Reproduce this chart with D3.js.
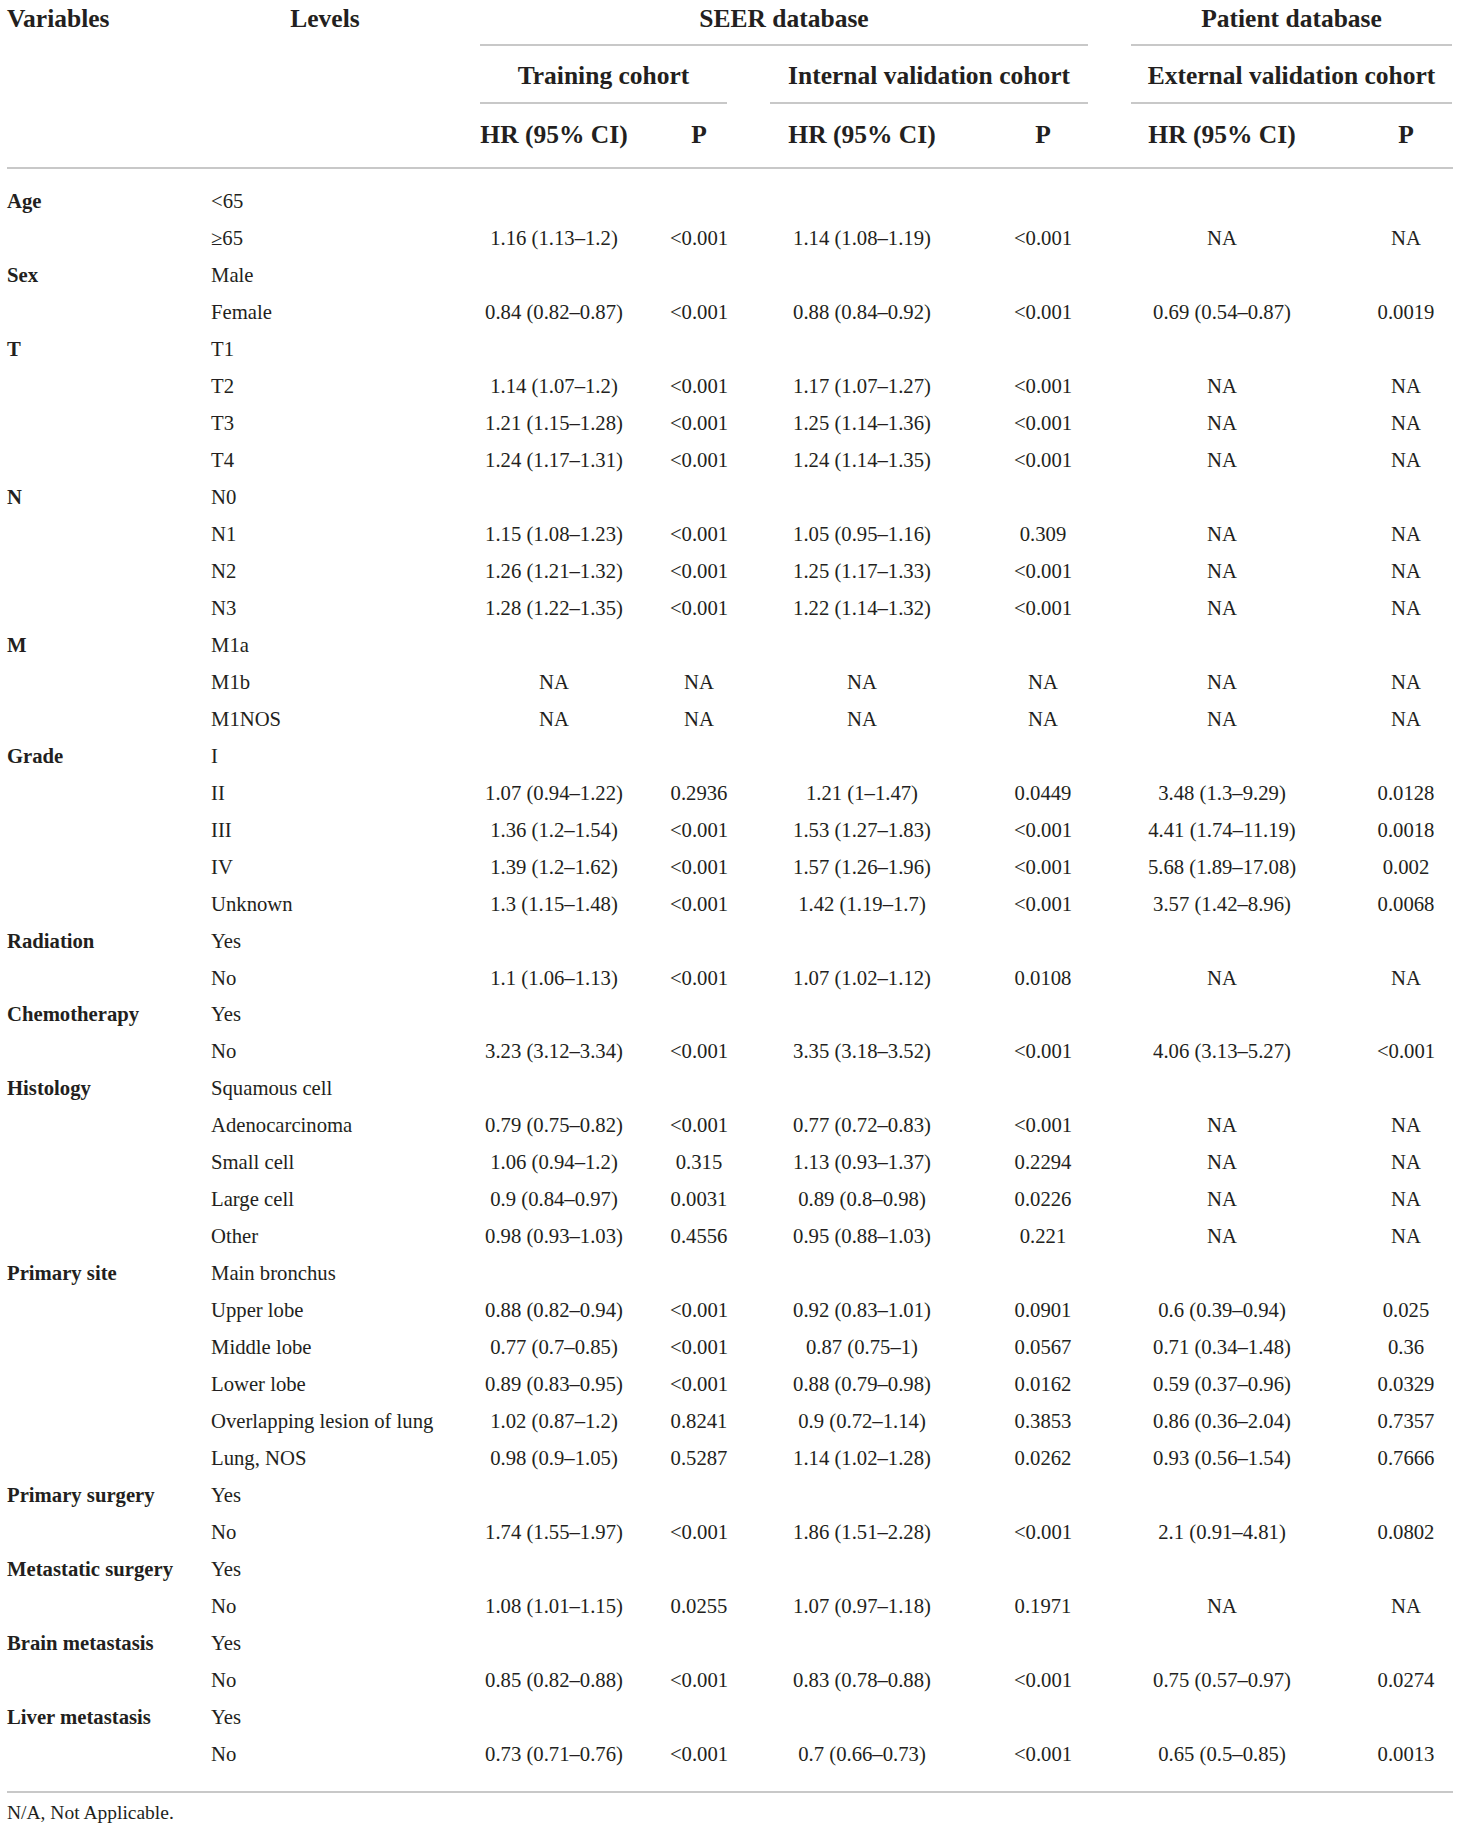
<!DOCTYPE html>
<html>
<head>
<meta charset="utf-8">
<script src="https://cdn.jsdelivr.net/npm/d3@7"></script>
<style>
  body { margin: 0; background: #fff; }
  text { font-family: "Liberation Serif", "DejaVu Serif", serif; fill: #231f20; }
</style>
</head>
<body>
<div id="table"></div>
<script>
// variables and their levels (first level of each is the reference)
const variables = ["Age", "Sex", "T", "N", "M", "Grade", "Radiation", "Chemotherapy", "Histology",
  "Primary site", "Primary surgery", "Metastatic surgery", "Brain metastasis", "Liver metastasis"];

const levels = [
  ["<65", "≥65"],
  ["Male", "Female"],
  ["T1", "T2", "T3", "T4"],
  ["N0", "N1", "N2", "N3"],
  ["M1a", "M1b", "M1NOS"],
  ["I", "II", "III", "IV", "Unknown"],
  ["Yes", "No"],
  ["Yes", "No"],
  ["Squamous cell", "Adenocarcinoma", "Small cell", "Large cell", "Other"],
  ["Main bronchus", "Upper lobe", "Middle lobe", "Lower lobe", "Overlapping lesion of lung", "Lung, NOS"],
  ["Yes", "No"],
  ["Yes", "No"],
  ["Yes", "No"],
  ["Yes", "No"]
];

// one entry per level row, "" for reference rows
const trainingHR = ["", "1.16 (1.13–1.2)", "", "0.84 (0.82–0.87)",
  "", "1.14 (1.07–1.2)", "1.21 (1.15–1.28)", "1.24 (1.17–1.31)",
  "", "1.15 (1.08–1.23)", "1.26 (1.21–1.32)", "1.28 (1.22–1.35)",
  "", "NA", "NA",
  "", "1.07 (0.94–1.22)", "1.36 (1.2–1.54)", "1.39 (1.2–1.62)", "1.3 (1.15–1.48)",
  "", "1.1 (1.06–1.13)", "", "3.23 (3.12–3.34)",
  "", "0.79 (0.75–0.82)", "1.06 (0.94–1.2)", "0.9 (0.84–0.97)", "0.98 (0.93–1.03)",
  "", "0.88 (0.82–0.94)", "0.77 (0.7–0.85)", "0.89 (0.83–0.95)", "1.02 (0.87–1.2)", "0.98 (0.9–1.05)",
  "", "1.74 (1.55–1.97)", "", "1.08 (1.01–1.15)", "", "0.85 (0.82–0.88)", "", "0.73 (0.71–0.76)"];

const trainingP = ["", "<0.001", "", "<0.001",
  "", "<0.001", "<0.001", "<0.001",
  "", "<0.001", "<0.001", "<0.001",
  "", "NA", "NA",
  "", "0.2936", "<0.001", "<0.001", "<0.001",
  "", "<0.001", "", "<0.001",
  "", "<0.001", "0.315", "0.0031", "0.4556",
  "", "<0.001", "<0.001", "<0.001", "0.8241", "0.5287",
  "", "<0.001", "", "0.0255", "", "<0.001", "", "<0.001"];

const internalHR = ["", "1.14 (1.08–1.19)", "", "0.88 (0.84–0.92)",
  "", "1.17 (1.07–1.27)", "1.25 (1.14–1.36)", "1.24 (1.14–1.35)",
  "", "1.05 (0.95–1.16)", "1.25 (1.17–1.33)", "1.22 (1.14–1.32)",
  "", "NA", "NA",
  "", "1.21 (1–1.47)", "1.53 (1.27–1.83)", "1.57 (1.26–1.96)", "1.42 (1.19–1.7)",
  "", "1.07 (1.02–1.12)", "", "3.35 (3.18–3.52)",
  "", "0.77 (0.72–0.83)", "1.13 (0.93–1.37)", "0.89 (0.8–0.98)", "0.95 (0.88–1.03)",
  "", "0.92 (0.83–1.01)", "0.87 (0.75–1)", "0.88 (0.79–0.98)", "0.9 (0.72–1.14)", "1.14 (1.02–1.28)",
  "", "1.86 (1.51–2.28)", "", "1.07 (0.97–1.18)", "", "0.83 (0.78–0.88)", "", "0.7 (0.66–0.73)"];

const internalP = ["", "<0.001", "", "<0.001",
  "", "<0.001", "<0.001", "<0.001",
  "", "0.309", "<0.001", "<0.001",
  "", "NA", "NA",
  "", "0.0449", "<0.001", "<0.001", "<0.001",
  "", "0.0108", "", "<0.001",
  "", "<0.001", "0.2294", "0.0226", "0.221",
  "", "0.0901", "0.0567", "0.0162", "0.3853", "0.0262",
  "", "<0.001", "", "0.1971", "", "<0.001", "", "<0.001"];

const externalHR = ["", "NA", "", "0.69 (0.54–0.87)",
  "", "NA", "NA", "NA",
  "", "NA", "NA", "NA",
  "", "NA", "NA",
  "", "3.48 (1.3–9.29)", "4.41 (1.74–11.19)", "5.68 (1.89–17.08)", "3.57 (1.42–8.96)",
  "", "NA", "", "4.06 (3.13–5.27)",
  "", "NA", "NA", "NA", "NA",
  "", "0.6 (0.39–0.94)", "0.71 (0.34–1.48)", "0.59 (0.37–0.96)", "0.86 (0.36–2.04)", "0.93 (0.56–1.54)",
  "", "2.1 (0.91–4.81)", "", "NA", "", "0.75 (0.57–0.97)", "", "0.65 (0.5–0.85)"];

const externalP = ["", "NA", "", "0.0019",
  "", "NA", "NA", "NA",
  "", "NA", "NA", "NA",
  "", "NA", "NA",
  "", "0.0128", "0.0018", "0.002", "0.0068",
  "", "NA", "", "<0.001",
  "", "NA", "NA", "NA", "NA",
  "", "0.025", "0.36", "0.0329", "0.7357", "0.7666",
  "", "0.0802", "", "NA", "", "0.0274", "", "0.0013"];

// header labels
const groupHeaders = ["SEER database", "Patient database"];
const cohortHeaders = ["Training cohort", "Internal validation cohort", "External validation cohort"];
const statHeaders = ["HR (95% CI)", "P"];
const footnote = "N/A, Not Applicable.";

// set up dimensions
const width = 1460;
const height = 1830;
const headFont = 25.5;
const bodyFont = 20.7;
const lineColor = "#c8c8c8";

// build flat rows from the arrays
const rows = [];
variables.forEach((v, i) => {
  levels[i].forEach((lv, j) => {
    rows.push({ variable: j === 0 ? v : "", level: lv });
  });
});
const valueCols = ["tHR", "tP", "iHR", "iP", "eHR", "eP"];
const valueArrays = [trainingHR, trainingP, internalHR, internalP, externalHR, externalP];
rows.forEach((r, k) => {
  valueCols.forEach((c, ci) => { r[c] = valueArrays[ci][k]; });
});

// scales for columns and rows
const x = d3.scaleOrdinal()
  .domain(valueCols)
  .range([554, 699, 862, 1043, 1222, 1406]);

const y = d3.scaleLinear()
  .domain([0, rows.length - 1])
  .range([208, 1761]);

// span of each cohort / database group
const cohortSpan = [[480, 727], [770, 1088], [1131, 1452]];
const groupSpan = [[480, 1088], [1131, 1452]];

const svg = d3.select("#table")
  .append("svg")
    .attr("width", width)
    .attr("height", height);

// rule lines
const rules = [
  ...groupSpan.map(s => ({ x1: s[0], x2: s[1], y: 45 })),
  ...cohortSpan.map(s => ({ x1: s[0], x2: s[1], y: 103 })),
  { x1: 7, x2: 1453, y: 168 },
  { x1: 7, x2: 1453, y: 1792 }
];
svg.selectAll("line.rule")
  .data(rules)
  .enter()
  .append("line")
    .attr("class", "rule")
    .attr("x1", d => d.x1)
    .attr("x2", d => d.x2)
    .attr("y1", d => d.y)
    .attr("y2", d => d.y)
    .attr("stroke", lineColor)
    .attr("stroke-width", 2);

// header text
const head = svg.append("g")
  .attr("font-weight", "bold")
  .attr("font-size", headFont);

head.append("text").attr("x", 7).attr("y", 27).text("Variables");
head.append("text").attr("x", 325).attr("y", 27).attr("text-anchor", "middle").text("Levels");

head.selectAll("text.group")
  .data(groupHeaders)
  .enter()
  .append("text")
    .attr("class", "group")
    .attr("x", (d, i) => (groupSpan[i][0] + groupSpan[i][1]) / 2)
    .attr("y", 27)
    .attr("text-anchor", "middle")
    .text(d => d);

head.selectAll("text.cohort")
  .data(cohortHeaders)
  .enter()
  .append("text")
    .attr("class", "cohort")
    .attr("x", (d, i) => (cohortSpan[i][0] + cohortSpan[i][1]) / 2)
    .attr("y", 84)
    .attr("text-anchor", "middle")
    .text(d => d);

head.selectAll("text.stat")
  .data(valueCols)
  .enter()
  .append("text")
    .attr("class", "stat")
    .attr("x", d => x(d))
    .attr("y", 143)
    .attr("text-anchor", "middle")
    .text((d, i) => statHeaders[i % 2]);

// body rows
const row = svg.selectAll("g.row")
  .data(rows)
  .enter()
  .append("g")
    .attr("class", "row")
    .attr("font-size", bodyFont)
    .attr("transform", (d, i) => `translate(0, ${y(i)})`);

row.append("text")
  .attr("x", 7)
  .attr("font-weight", "bold")
  .text(d => d.variable);

row.append("text")
  .attr("x", 211)
  .text(d => d.level);

valueCols.forEach(c => {
  row.append("text")
    .attr("x", x(c))
    .attr("text-anchor", "middle")
    .text(d => d[c]);
});

// footnote
svg.append("text")
  .attr("x", 7)
  .attr("y", 1819)
  .attr("font-size", 19.5)
  .text(footnote);
</script>
</body>
</html>
